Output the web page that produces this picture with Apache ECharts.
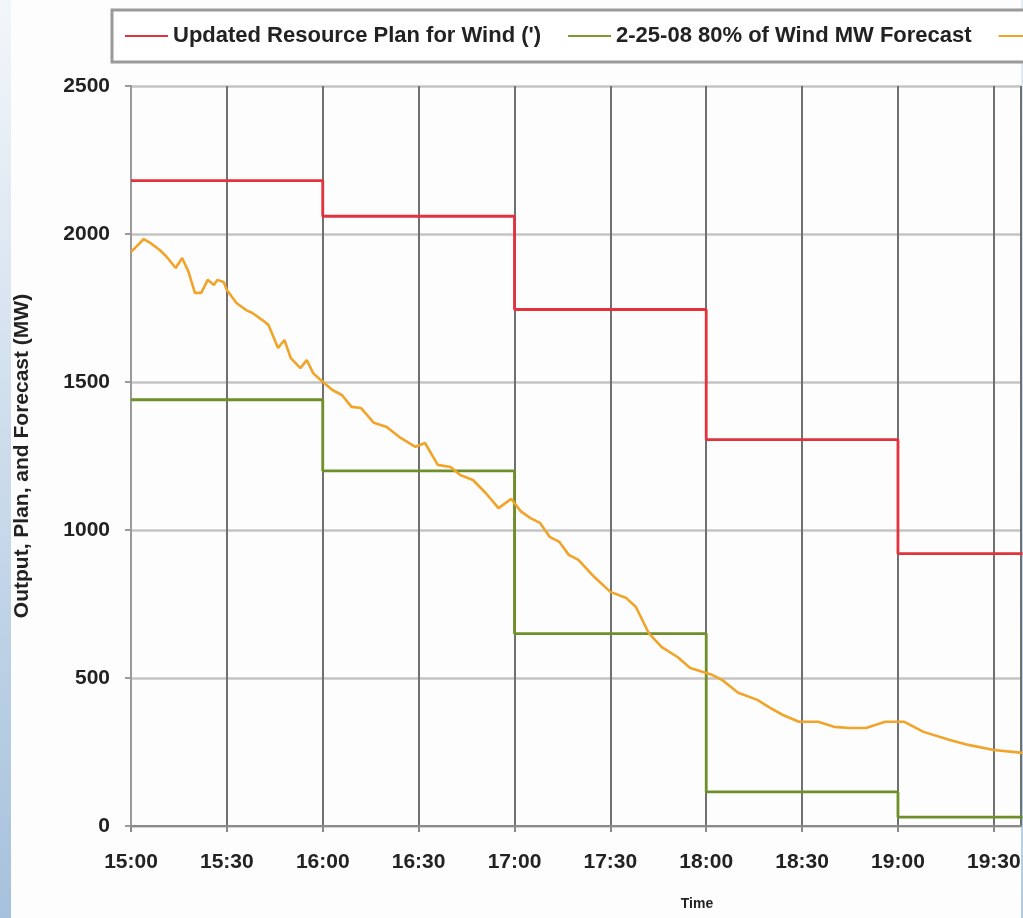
<!DOCTYPE html>
<html>
<head>
<meta charset="utf-8">
<script src="https://cdn.jsdelivr.net/npm/echarts@6/dist/echarts.min.js"></script>
<style>
html,body{margin:0;padding:0;background:#fdfdfd;}
#chart{width:1023px;height:918px;}
</style>
</head>
<body>
<div id="chart"></div>
<script>
// ---- data ----
const seriesNames = ["Updated Resource Plan for Wind (')", "2-25-08 80% of Wind MW Forecast", "Actual Wind Output"];
const stepTimes = ['15:00','16:00','17:00','18:00','19:00','19:39'];
const planValues = [2180, 2060, 1745, 1305, 920, 920];
const forecastValues = [1440, 1200, 650, 115, 30, 30];
const actualTimes = ['15:00','15:01','15:04','15:06','15:09','15:11','15:14','15:16','15:18','15:20','15:22','15:24','15:26','15:27','15:29','15:30',
  '15:33','15:36','15:38','15:41','15:43','15:46','15:48','15:50','15:53','15:55','15:57','15:59','16:03','16:06','16:09','16:12','16:16',
  '16:20','16:24','16:29','16:32','16:36','16:40','16:43','16:47','16:51','16:55','16:59','17:02','17:05','17:08','17:11','17:14','17:17',
  '17:20','17:25','17:30','17:35','17:38','17:42','17:46','17:51','17:55','17:59','18:02','18:05','18:10','18:16','18:20','18:24','18:29',
  '18:35','18:40','18:45','18:50','18:56','19:02','19:08','19:16','19:22','19:30','19:39'];
const actualValues = [1940,1950,1983,1970,1946,1925,1885,1919,1872,1801,1801,1845,1828,1845,1838,1811,
  1767,1743,1733,1710,1693,1615,1642,1581,1547,1574,1530,1510,1473,1456,1416,1412,1362,
  1348,1314,1281,1294,1220,1213,1186,1169,1125,1074,1105,1063,1040,1024,977,960,916,
  899,841,791,770,740,652,605,571,534,520,510,493,450,426,399,375,352,
  352,335,331,331,352,352,318,291,274,257,247];
const yTicks = [0, 500, 1000, 1500, 2000, 2500];

function toMin(s){ const p = s.split(':').map(Number); return (p[0]-15)*60 + p[1]; }
function fmt(v){ const h = 15 + Math.floor(v/60), m = Math.round(v%60); return h + ':' + (m<10?'0':'') + m; }
const pair = (ts, vs) => ts.map((t,i) => [toMin(t), vs[i]]);

const chart = echarts.init(document.getElementById('chart'), null, {renderer:'canvas'});
const FONT = 'Liberation Sans, Arial, sans-serif';
chart.setOption({
  animation: false,
  backgroundColor: '#fdfdfd',
  graphic: [
    {type:'rect', x:0, y:0, shape:{x:0, y:0, width:11, height:918}, z:-1,
     style:{fill:new echarts.graphic.LinearGradient(0,0,0,1,[{offset:0,color:'#f2f6fa'},{offset:1,color:'#a6c1dc'}])}},
    {type:'rect', x:1021, y:0, shape:{x:0, y:0, width:2, height:918}, z:-1,
     style:{fill:new echarts.graphic.LinearGradient(0,0,0,1,[{offset:0,color:'#e4ecf5'},{offset:1,color:'#b3cbe2'}])}},
    {type:'text', x:697, y:904, style:{text:'Time', align:'center', verticalAlign:'middle', font:'bold 14px Liberation Sans, Arial, sans-serif', fill:'#222'}}
  ],
  legend: {
    left: 112, top: 10, width: 1400,
    padding: [15, 13, 15, 13],
    borderColor: '#9a9a9a', borderWidth: 3,
    backgroundColor: '#ffffff',
    icon: 'rect', itemWidth: 43, itemHeight: 2, itemGap: 27,
    textStyle: {fontSize: 22, fontWeight: 'bold', color: '#222', fontFamily: FONT},
    data: seriesNames
  },
  grid: {left: 131, right: 2, top: 86, bottom: 92, containLabel: false, outerBoundsMode: 'none'},
  xAxis: {
    type: 'value', min: 0, max: 278.5, interval: 30,
    axisLine: {show: true, lineStyle: {color: '#8a8a8a', width: 2}},
    axisTick: {show: true, length: 6, lineStyle: {color: '#8a8a8a', width: 2}},
    axisLabel: {margin: 26, fontSize: 21, fontWeight: 'bold', color: '#222', fontFamily: FONT,
      showMaxLabel: false, formatter: v => (v % 30 === 0 ? fmt(v) : '')},
    splitLine: {show: true, lineStyle: {color: '#707070', width: 2}}
  },
  yAxis: {
    type: 'value', min: 0, max: 2500, interval: 500,
    name: 'Output, Plan, and Forecast (MW)', nameLocation: 'middle', nameGap: 98, nameRotate: 90,
    nameTextStyle: {fontSize: 21, fontWeight: 'bold', color: '#222', fontFamily: FONT},
    axisLine: {show: true, lineStyle: {color: '#9a9a9a', width: 2}},
    axisTick: {show: true, length: 6, lineStyle: {color: '#9a9a9a', width: 2}},
    axisLabel: {margin: 21, fontSize: 21, fontWeight: 'bold', color: '#222', fontFamily: FONT,
      formatter: v => (yTicks.indexOf(v) >= 0 ? String(v) : '')},
    splitLine: {show: true, lineStyle: {color: '#c4c4c4', width: 2.5}}
  },
  series: [
    {name: seriesNames[0], type: 'line', step: 'end', showSymbol: false, data: pair(stepTimes, planValues),
     lineStyle: {color: '#e2323c', width: 2.8}, itemStyle: {color: '#e2323c'}},
    {name: seriesNames[1], type: 'line', step: 'end', showSymbol: false, data: pair(stepTimes, forecastValues),
     lineStyle: {color: '#6f8f2a', width: 2.8}, itemStyle: {color: '#7d9a2e'}},
    {name: seriesNames[2], type: 'line', showSymbol: false, data: pair(actualTimes, actualValues),
     lineStyle: {color: '#f0a429', width: 2.6}, itemStyle: {color: '#f0a429'}}
  ]
});
</script>
</body>
</html>
